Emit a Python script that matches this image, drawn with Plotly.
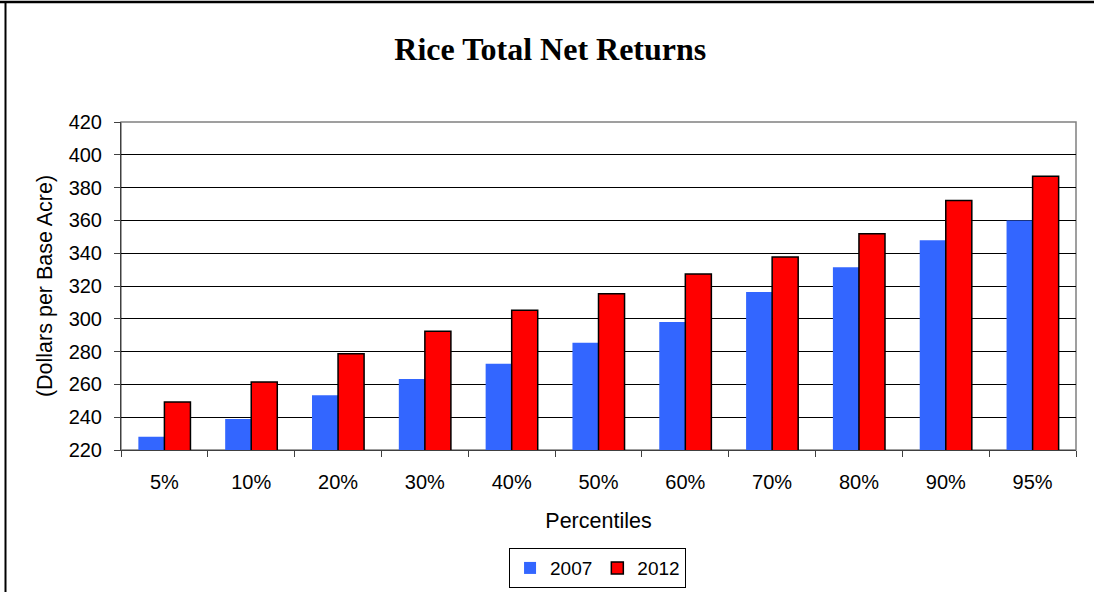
import plotly.graph_objects as go

categories = ["5%", "10%", "20%", "30%", "40%", "50%", "60%", "70%", "80%", "90%", "95%"]
values_2007 = [228.1, 238.9, 253.4, 263.3, 272.6, 285.4, 298.0, 316.3, 331.4, 347.9, 360.0]
values_2012 = [249.3, 261.5, 278.7, 292.4, 305.2, 315.3, 327.3, 337.7, 351.9, 372.2, 386.9]
y_ticks = [220, 240, 260, 280, 300, 320, 340, 360, 380, 400, 420]

fig = go.Figure()
fig.add_trace(go.Bar(x=categories, y=values_2007, name="2007",
                     marker=dict(color="#3366FF", line=dict(width=0))))
fig.add_trace(go.Bar(x=categories, y=values_2012, name="2012",
                     marker=dict(color="#FF0000", line=dict(color="#000000", width=1.5))))

fig.update_layout(
    width=1094, height=592,
    margin=dict(l=121, r=18, t=122, b=142, autoexpand=False),
    paper_bgcolor="white", plot_bgcolor="white",
    barmode="group", bargap=0.4, bargroupgap=0,
    font=dict(family="Liberation Sans, Arial, sans-serif", size=20, color="black"),
    title=dict(text="<b>Rice Total Net Returns</b>", x=0.503, xanchor="center",
               y=1 - 49 / 592, yanchor="middle",
               font=dict(family="Liberation Serif, Times New Roman, serif", size=32, color="black")),
    showlegend=True,
    legend=dict(orientation="h", x=0.499, xanchor="center", y=-0.36, yanchor="middle",
                bordercolor="black", borderwidth=1, bgcolor="white",
                font=dict(size=19), itemwidth=30, traceorder="normal"),
    xaxis=dict(
        categoryorder="array", categoryarray=categories,
        automargin=False,
        showline=True, linecolor="#404040", linewidth=1,
        ticks="outside", ticklen=6, tickcolor="#404040", tickson="boundaries",
        ticklabelstandoff=14,
        tickfont=dict(size=20),
        showgrid=False,
        title=dict(text="Percentiles", font=dict(size=21.5), standoff=20),
    ),
    yaxis=dict(
        range=[220, 420], tickvals=y_ticks,
        automargin=False,
        showline=True, linecolor="#404040", linewidth=1,
        ticks="outside", ticklen=6, tickcolor="#404040",
        ticklabelstandoff=8,
        tickfont=dict(size=20),
        showgrid=True, gridcolor="black", gridwidth=1,
        zeroline=False,
        title=dict(text="(Dollars per Base Acre)", font=dict(size=21.5), standoff=10),
    ),
)

# plot area border (gray, top and right)
fig.add_shape(type="rect", xref="paper", yref="paper", x0=0, x1=1, y0=0, y1=1,
              line=dict(color="#808080", width=1.5), layer="below")
# outer chart frame (top and left edges visible)
fig.add_shape(type="line", xref="paper", yref="paper", x0=-121/955, x1=(1094-121)/955,
              y0=1 + 120/328, y1=1 + 120/328, line=dict(color="black", width=2.5))
fig.add_shape(type="line", xref="paper", yref="paper", x0=-115.5/955, x1=-115.5/955,
              y0=1 + 121/328, y1=-142/328, line=dict(color="black", width=2))

fig.write_html("out.html", config={"displayModeBar": False},
               post_script="document.body.style.margin='0';document.body.style.padding='0';")
